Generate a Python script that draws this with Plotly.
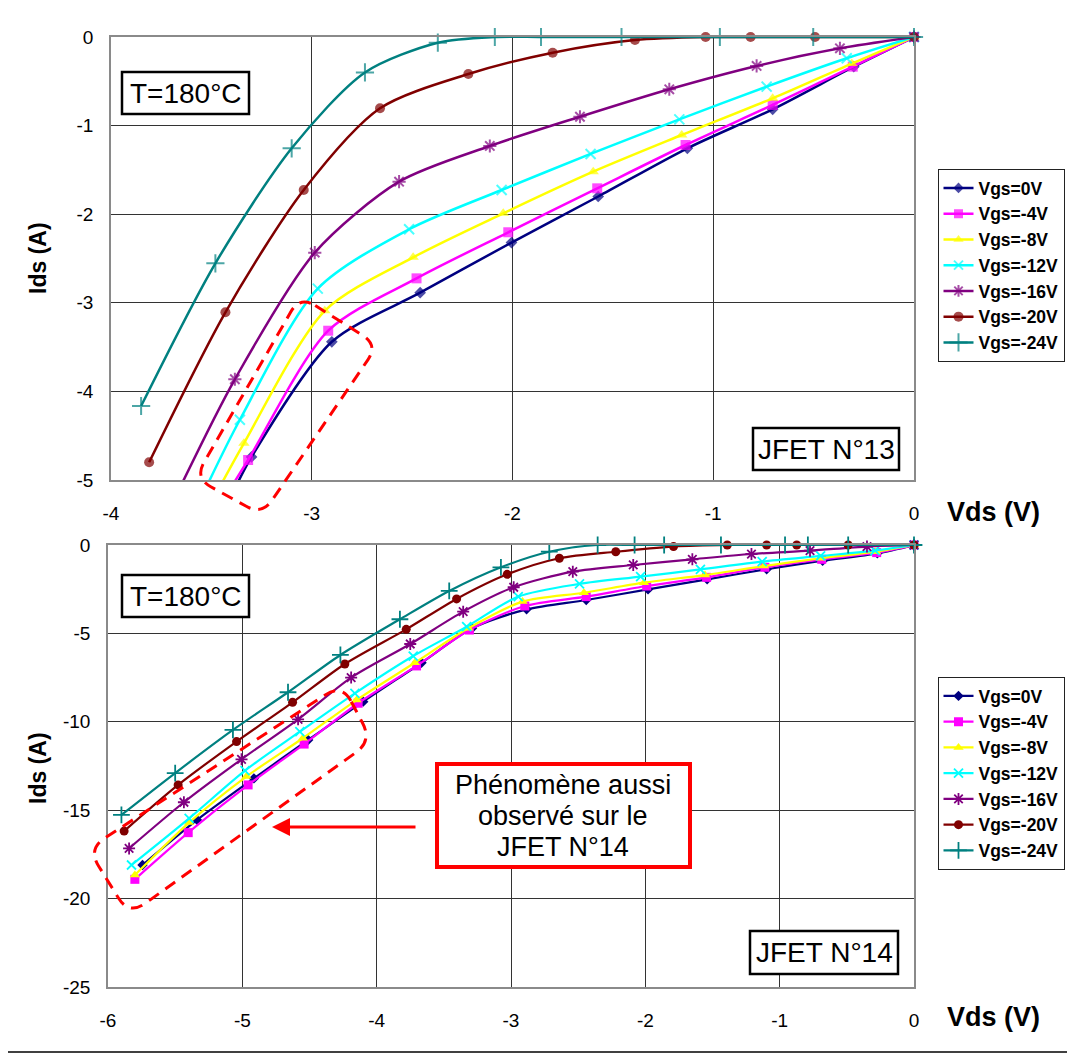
import math
import plotly.graph_objects as go

# ---------------- data ----------------
series_names = ["Vgs=0V", "Vgs=-4V", "Vgs=-8V", "Vgs=-12V", "Vgs=-16V", "Vgs=-20V", "Vgs=-24V"]
colors = ["#000080", "#FF00FF", "#FFFF00", "#00FFFF", "#800080", "#800000", "#008080"]
symbols = ["diamond", "square", "triangle-up", "x-thin-open", "asterisk-open", "circle", "cross-thin-open"]

# JFET N°13 (top)
top_vds_0 = [-3.30, -2.90, -2.46, -2.005, -1.573, -1.129, -0.704, -0.30, 0]
top_ids_0 = [-4.74, -3.44, -2.886, -2.32, -1.80, -1.256, -0.816, -0.335, 0]
top_vds_4 = [-3.317, -2.918, -2.478, -2.021, -1.578, -1.138, -0.704, -0.305, 0]
top_ids_4 = [-4.774, -3.315, -2.724, -2.204, -1.708, -1.219, -0.767, -0.335, 0]
top_vds_8 = [-3.338, -2.935, -2.495, -2.046, -1.598, -1.157, -0.704, -0.31, 0]
top_ids_8 = [-4.586, -3.09, -2.487, -1.99, -1.52, -1.106, -0.692, -0.30, 0]
top_vds_12 = [-3.358, -2.97, -2.515, -2.054, -1.611, -1.169, -0.734, -0.335, 0]
top_ids_12 = [-4.32, -2.84, -2.17, -1.727, -1.32, -0.93, -0.56, -0.24, 0]
top_vds_16 = [-3.383, -2.985, -2.565, -2.113, -1.664, -1.219, -0.784, -0.369, 0]
top_ids_16 = [-3.863, -2.434, -1.633, -1.23, -0.90, -0.59, -0.327, -0.128, 0]
top_vds_20 = [-3.81, -3.43, -3.04, -2.66, -2.22, -1.80, -1.39, -1.038, -0.814, -0.493, 0]
top_ids_20 = [-4.80, -3.107, -1.727, -0.805, -0.418, -0.177, -0.034, 0, 0, 0, 0]
top_vds_24 = [-3.85, -3.48, -3.10, -2.735, -2.372, -2.088, -1.858, -1.457, -0.967, -0.502, 0]
top_ids_24 = [-4.165, -2.554, -1.256, -0.40, -0.064, 0, 0, 0, 0, 0, 0]
# part of the curves running below the -5 A axis limit (clipped in the reference)
top_tail_vds = [-3.405, -3.42, -3.475, -3.54, -3.67, None, None]
top_tail_ids = [-5.2, -5.15, -5.15, -5.15, -5.15, None, None]

# JFET N°14 (bottom)
bot_vds_0 = [-5.743, -5.337, -4.914, -4.51, -4.10, -3.666, -3.29, -2.884, -2.44, -1.98, -1.54, -1.097, -0.68, -0.273, 0]
bot_ids_0 = [-18.1, -15.55, -13.2, -11.03, -8.86, -6.66, -4.71, -3.64, -3.11, -2.51, -1.94, -1.37, -0.89, -0.47, 0]
bot_vds_4 = [-5.80, -5.403, -4.957, -4.54, -4.138, -3.703, -3.31, -2.897, -2.44, -1.99, -1.544, -1.11, -0.687, -0.278, 0]
bot_ids_4 = [-18.91, -16.27, -13.57, -11.26, -8.95, -6.84, -4.81, -3.45, -2.92, -2.32, -1.83, -1.26, -0.81, -0.43, 0]
bot_vds_8 = [-5.80, -5.396, -4.97, -4.55, -4.15, -3.716, -3.318, -2.914, -2.457, -2.01, -1.556, -1.117, -0.695, -0.283, 0]
bot_ids_8 = [-18.67, -15.7, -13.1, -10.93, -8.77, -6.66, -4.71, -3.2, -2.7, -2.13, -1.7, -1.19, -0.75, -0.38, 0]
bot_vds_12 = [-5.825, -5.396, -4.98, -4.572, -4.162, -3.728, -3.33, -2.946, -2.49, -2.035, -1.59, -1.13, -0.695, -0.29, 0]
bot_ids_12 = [-18.1, -15.46, -12.76, -10.56, -8.39, -6.28, -4.62, -2.92, -2.2, -1.79, -1.38, -0.94, -0.62, -0.32, 0]
bot_vds_16 = [-5.843, -5.435, -5.006, -4.585, -4.19, -3.75, -3.356, -2.98, -2.54, -2.09, -1.65, -1.21, -0.774, -0.35, 0]
bot_ids_16 = [-17.16, -14.55, -12.12, -9.86, -7.5, -5.6, -3.77, -2.39, -1.51, -1.13, -0.81, -0.51, -0.32, -0.09, 0]
bot_vds_20 = [-5.88, -5.478, -5.043, -4.626, -4.237, -3.78, -3.405, -3.028, -2.64, -2.22, -1.79, -1.39, -1.097, -0.873, -0.49, 0]
bot_ids_20 = [-16.18, -13.57, -11.12, -8.9, -6.73, -4.77, -3.05, -1.66, -0.75, -0.38, -0.09, 0, 0, 0, 0, 0]
bot_vds_24 = [-5.90, -5.50, -5.07, -4.66, -4.27, -3.827, -3.46, -3.075, -2.715, -2.355, -2.08, -1.86, -1.437, -0.96, -0.79, -0.49, 0]
bot_ids_24 = [-15.27, -12.9, -10.46, -8.33, -6.22, -4.2, -2.6, -1.26, -0.38, 0, 0, 0, 0, 0, 0, 0, 0]

top_x_ticks = [-4, -3, -2, -1, 0]
top_x_labels = ["-4", "-3", "-2", "-1", "0"]
top_y_ticks = [0, -1, -2, -3, -4, -5]
top_y_labels = ["0", "-1", "-2", "-3", "-4", "-5"]
bot_x_ticks = [-6, -5, -4, -3, -2, -1, 0]
bot_x_labels = ["-6", "-5", "-4", "-3", "-2", "-1", "0"]
bot_y_ticks = [0, -5, -10, -15, -20, -25]
bot_y_labels = ["0", "-5", "-10", "-15", "-20", "-25"]

top_vds = [top_vds_0, top_vds_4, top_vds_8, top_vds_12, top_vds_16, top_vds_20, top_vds_24]
top_ids = [top_ids_0, top_ids_4, top_ids_8, top_ids_12, top_ids_16, top_ids_20, top_ids_24]
bot_vds = [bot_vds_0, bot_vds_4, bot_vds_8, bot_vds_12, bot_vds_16, bot_vds_20, bot_vds_24]
bot_ids = [bot_ids_0, bot_ids_4, bot_ids_8, bot_ids_12, bot_ids_16, bot_ids_20, bot_ids_24]

# ---------------- layout geometry ----------------
# the page puts the figure 8 px from the top-left corner of the window
OFF = 8
W, H = 1075 - OFF, 1054 - OFF
ML, MT = 108 - OFF, 37 - OFF
MR, MB = W - (914 - OFF), H - (987 - OFF)
PW, PH = W - ML - MR, H - MT - MB
FONT = "Arial, Liberation Sans, Arimo, sans-serif"


def PX(px):
    # window pixel -> paper fraction
    return (px - OFF - ML) / PW


def PY(py):
    return (H - MB - (py - OFF)) / PH


top_sizes = [9, 10, 10, 10, 11, 10, 13]
bot_sizes = [8, 9, 9, 9, 10, 9, 12]
open_sym = [False, False, False, True, True, False, True]

fig = go.Figure()

for i, name in enumerate(series_names):
    xs = list(top_vds[i])
    ys = list(top_ids[i])
    sizes = [top_sizes[i]] * len(xs)
    if top_tail_vds[i] is not None:
        xs = [top_tail_vds[i]] + xs
        ys = [top_tail_ids[i]] + ys
        sizes = [0] + sizes
    marker = dict(symbol=symbols[i], size=sizes, color=colors[i])
    if open_sym[i]:
        marker["line"] = dict(color=colors[i], width=2)
    else:
        marker["line"] = dict(width=0)
    fig.add_trace(go.Scatter(
        x=xs, y=ys, name=name, mode="lines+markers",
        line=dict(color=colors[i], width=2.5, shape="spline", smoothing=0.8),
        marker=marker, xaxis="x", yaxis="y", legend="legend", cliponaxis=False,
    ))

for i, name in enumerate(series_names):
    marker = dict(symbol=symbols[i], size=bot_sizes[i], color=colors[i])
    if open_sym[i]:
        marker["line"] = dict(color=colors[i], width=1.8)
    else:
        marker["line"] = dict(width=0)
    fig.add_trace(go.Scatter(
        x=bot_vds[i], y=bot_ids[i], name=name, mode="lines+markers",
        line=dict(color=colors[i], width=2.2, shape="spline", smoothing=0.8),
        marker=marker, xaxis="x2", yaxis="y2", legend="legend2", cliponaxis=False,
    ))

axis_common = dict(
    showgrid=True, gridcolor="#333333", gridwidth=1,
    showline=True, mirror=True, linecolor="#8a8a8a", linewidth=1.5,
    zeroline=False, ticks="", tickfont=dict(family=FONT, size=19, color="#000000"),
)

fig.update_layout(
    width=W, height=H,
    margin=dict(l=ML, r=MR, t=MT, b=MB, autoexpand=False),
    paper_bgcolor="white", plot_bgcolor="white",
    font=dict(family=FONT, color="black"),
    xaxis=dict(domain=[PX(111), 1], anchor="y", range=[-4, 0],
               tickmode="array", tickvals=top_x_ticks, ticktext=top_x_labels,
               ticklabelstandoff=15, **axis_common),
    yaxis=dict(domain=[PY(480), 1], anchor="x", range=[-5, 0],
               tickmode="array", tickvals=top_y_ticks, ticktext=top_y_labels,
               ticklabelstandoff=12, **axis_common),
    xaxis2=dict(domain=[0, 1], anchor="y2", range=[-6, 0],
                tickmode="array", tickvals=bot_x_ticks, ticktext=bot_x_labels,
                ticklabelstandoff=15, **axis_common),
    yaxis2=dict(domain=[0, PY(545)], anchor="x2", range=[-25, 0],
                tickmode="array", tickvals=bot_y_ticks, ticktext=bot_y_labels,
                ticklabelstandoff=12, **axis_common),
    legend=dict(x=PX(937.5), y=PY(169), xanchor="left", yanchor="top",
                bgcolor="white", bordercolor="#222222", borderwidth=1,
                font=dict(family=FONT, size=17.5, color="black", weight="bold"),
                itemwidth=30, tracegroupgap=0),
    legend2=dict(x=PX(937.5), y=PY(677), xanchor="left", yanchor="top",
                 bgcolor="white", bordercolor="#222222", borderwidth=1,
                 font=dict(family=FONT, size=17.5, color="black", weight="bold"),
                 itemwidth=30, tracegroupgap=0),
    showlegend=True,
)


def P(pt):
    return f"{PX(pt[0]):.5f},{PY(pt[1]):.5f}"


def rounded_path(corners, r):
    n = len(corners)
    pts = []
    for i in range(n):
        cx, cy = corners[i]
        ax, ay = corners[i - 1]
        bx, by = corners[(i + 1) % n]
        d1 = math.hypot(ax - cx, ay - cy)
        d2 = math.hypot(bx - cx, by - cy)
        a = (cx + (ax - cx) * r / d1, cy + (ay - cy) * r / d1)
        b = (cx + (bx - cx) * r / d2, cy + (by - cy) * r / d2)
        pts.append((a, (cx, cy), b))
    path = "M " + P(pts[0][2])
    for i in range(1, n):
        path += " L " + P(pts[i][0]) + " Q " + P(pts[i][1]) + " " + P(pts[i][2])
    path += " L " + P(pts[0][0]) + " Q " + P(pts[0][1]) + " " + P(pts[0][2]) + " Z"
    return path


shapes = []
# red dashed highlight outlines
shapes.append(dict(type="path", xref="paper", yref="paper",
                   path=rounded_path([(300, 296), (378, 345), (262, 515), (195, 478)], 18),
                   line=dict(color="#FF0000", width=3, dash="12px,8px"), layer="above"))
shapes.append(dict(type="path", xref="paper", yref="paper",
                   path=rounded_path([(342, 684), (372, 741), (129, 915), (88, 849)], 20),
                   line=dict(color="#FF0000", width=3, dash="12px,8px"), layer="above"))


def box(x0, y0, x1, y1, color="black", width=2.5):
    return dict(type="rect", xref="paper", yref="paper",
                x0=PX(x0), x1=PX(x1), y0=PY(y1), y1=PY(y0),
                line=dict(color=color, width=width), fillcolor="white", layer="above")


shapes.append(box(122, 72, 249, 114))
shapes.append(box(122, 575, 249, 617))
shapes.append(box(753, 428, 899, 470))
shapes.append(box(750, 931, 898, 974))
shapes.append(box(437, 764, 690, 867, color="#FF0000", width=4))
# right and bottom edges of the picture frame
shapes.append(dict(type="line", xref="paper", yref="paper",
                   x0=PX(1072.5), x1=PX(1072.5), y0=PY(1052), y1=PY(8),
                   line=dict(color="black", width=1.5)))
shapes.append(dict(type="line", xref="paper", yref="paper",
                   x0=PX(8), x1=PX(1072.5), y0=PY(1052), y1=PY(1052),
                   line=dict(color="black", width=1.5)))

annotations = []


def text(x, y, s, size, bold=False, angle=0, xanchor="center"):
    annotations.append(dict(
        x=PX(x), y=PY(y), xref="paper", yref="paper", text=s, showarrow=False,
        xanchor=xanchor, yanchor="middle", textangle=angle,
        font=dict(family=FONT, size=size, color="black", weight="bold" if bold else "normal"),
    ))


text(186, 93, "T=180°C", 28)
text(186, 596, "T=180°C", 28)
text(826, 449, "JFET N°13", 28)
text(824, 952, "JFET N°14", 28)
text(563, 785, "Phénomène aussi", 27)
text(563, 816, "observé sur le", 27)
text(563, 847, "JFET N°14", 27)
text(945, 512, "Vds (V)", 27, bold=True, xanchor="left")
text(945, 1017, "Vds (V)", 27, bold=True, xanchor="left")
text(38, 258, "Ids (A)", 23, bold=True, angle=-90)
text(38, 768, "Ids (A)", 23, bold=True, angle=-90)

# red arrow
annotations.append(dict(
    x=PX(272), y=PY(827), xref="paper", yref="paper", text="", showarrow=True,
    ax=145, ay=0, axref="pixel", ayref="pixel",
    arrowhead=2, arrowsize=1.2, arrowwidth=3, arrowcolor="#FF0000", standoff=0,
))

fig.update_layout(shapes=shapes, annotations=annotations)

fig.write_html("out.html")
